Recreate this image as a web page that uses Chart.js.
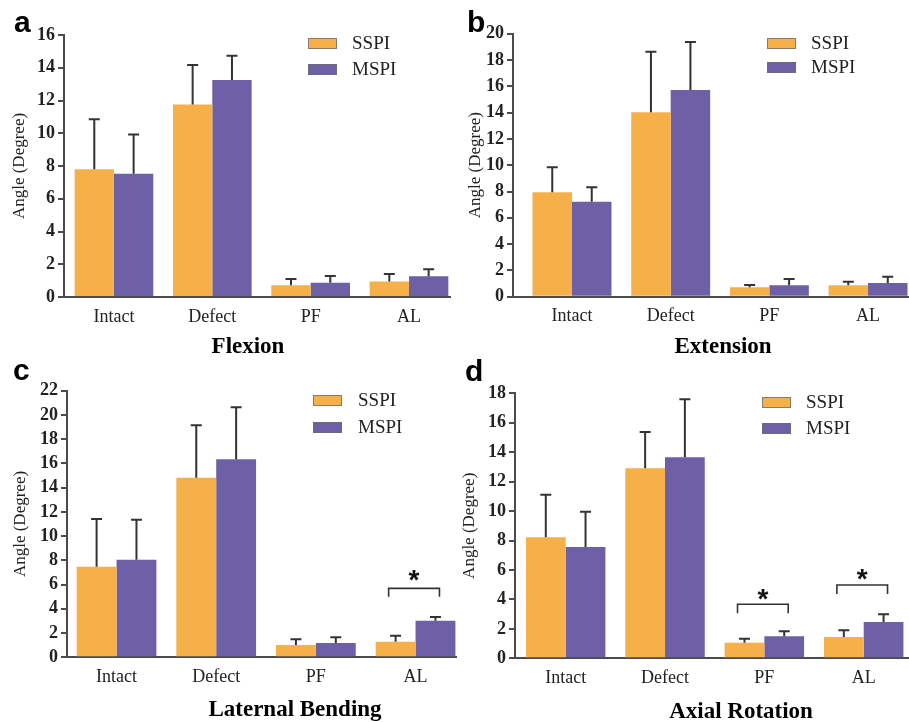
<!DOCTYPE html>
<html><head><meta charset="utf-8">
<script src="https://cdn.jsdelivr.net/npm/chart.js@4.4.1/dist/chart.umd.min.js"></script>
<style>
html,body{margin:0;padding:0;background:#fff;}
body{width:909px;height:722px;overflow:hidden;position:relative;}
canvas{position:absolute;}
</style></head><body>
<canvas id="pa" style="left:0px;top:0px" width="460" height="360"></canvas>
<canvas id="pb" style="left:450px;top:0px" width="459" height="360"></canvas>
<canvas id="pc" style="left:0px;top:355px" width="460" height="367"></canvas>
<canvas id="pd" style="left:450px;top:355px" width="459" height="367"></canvas>
<script>
// ---- data ----
const categories = ['Intact', 'Defect', 'PF', 'AL'];
const seriesNames = ['SSPI', 'MSPI'];

const flexionSSPI    = [7.80, 11.75, 0.71, 0.94];
const flexionSSPIErr = [3.05, 2.42, 0.39, 0.46];
const flexionMSPI    = [7.53, 13.25, 0.87, 1.26];
const flexionMSPIErr = [2.40, 1.49, 0.41, 0.43];

const extensionSSPI    = [7.94, 14.02, 0.71, 0.87];
const extensionSSPIErr = [1.90, 4.61, 0.18, 0.27];
const extensionMSPI    = [7.22, 15.72, 0.87, 1.04];
const extensionMSPIErr = [1.10, 3.65, 0.48, 0.48];

const lateralSSPI    = [7.47, 14.82, 1.01, 1.29];
const lateralSSPIErr = [3.94, 4.32, 0.48, 0.49];
const lateralMSPI    = [8.05, 16.34, 1.18, 3.02];
const lateralMSPIErr = [3.30, 4.29, 0.47, 0.31];

const axialSSPI    = [8.22, 12.91, 1.06, 1.45];
const axialSSPIErr = [2.89, 2.46, 0.27, 0.45];
const axialMSPI    = [7.56, 13.65, 1.49, 2.47];
const axialMSPIErr = [2.40, 3.94, 0.34, 0.52];

const yMaxTicks = [16, 20, 22, 18];
const panelTitles = ['Flexion', 'Extension', 'Laternal Bending', 'Axial Rotation'];
const panelLetters = ['a', 'b', 'c', 'd'];

// ---- styles ----
const ORANGE = '#F5B04A';
const PURPLE = '#6E60A7';
const AXIS = '#4d4a4a';
const INK = '#222222';
const SERIF = "'Liberation Serif', 'Times New Roman', serif";
const SANS = "'Liberation Sans', Arial, sans-serif";

// layout per panel (canvas coordinates)
const panels = [
  {id:'pa', sspi:flexionSSPI, sspiErr:flexionSSPIErr, mspi:flexionMSPI, mspiErr:flexionMSPIErr,
   xMin:-0.508, xMax:3.417, yWidth:64, padTop:35, padRight:10, xHeight:63, yTitlePad:9,
   legendX:308, legendY:38, legendGap:26, legendTextX:352, titleX:248, titleY:353, letterX:14, letterY:32, sig:[]},
  {id:'pb', sspi:extensionSSPI, sspiErr:extensionSSPIErr, mspi:extensionMSPI, mspiErr:extensionMSPIErr,
   xMin:-0.598, xMax:3.405, yWidth:63, padTop:33.7, padRight:1, xHeight:63.3, yTitlePad:15,
   legendX:317, legendY:38, legendGap:24, legendTextX:361, titleX:273, titleY:353, letterX:17, letterY:32, sig:[]},
  {id:'pc', sspi:lateralSSPI, sspiErr:lateralSSPIErr, mspi:lateralMSPI, mspiErr:lateralMSPIErr,
   xMin:-0.497, xMax:3.406, yWidth:67, padTop:35.7, padRight:4, xHeight:64.7, yTitlePad:10,
   legendX:313, legendY:40, legendGap:27, legendTextX:358, titleX:295, titleY:361, letterX:13, letterY:25,
   sig:[{cat:3, top:5.69, bottom:5.0, star:6.96}]},
  {id:'pd', sspi:axialSSPI, sspiErr:axialSSPIErr, mspi:axialMSPI, mspiErr:axialMSPIErr,
   xMin:-0.51, xMax:3.456, yWidth:65, padTop:38.3, padRight:0, xHeight:63.7, yTitlePad:9,
   legendX:312, legendY:42, legendGap:26, legendTextX:356, titleX:291, titleY:363, letterX:15, letterY:26,
   sig:[{cat:2, top:3.67, bottom:3.06, star:4.52}, {cat:3, top:4.98, bottom:4.37, star:5.86}]}
];

function decorPlugin(p, idx){
  return {
    id:'decor'+idx,
    afterDatasetsDraw(chart){
      const ctx = chart.ctx;
      const xs = chart.scales.x, ys = chart.scales.y;
      ctx.save();
      // error bars (upper only)
      ctx.strokeStyle = '#333';
      ctx.lineWidth = 2;
      chart.data.datasets.forEach((ds, di) => {
        const meta = chart.getDatasetMeta(di);
        meta.data.forEach((bar, i) => {
          const top = ys.getPixelForValue(ds.data[i].y + ds.err[i]);
          ctx.beginPath();
          ctx.moveTo(bar.x, bar.y);
          ctx.lineTo(bar.x, top);
          ctx.moveTo(bar.x - 5.5, top);
          ctx.lineTo(bar.x + 5.5, top);
          ctx.stroke();
        });
      });
      // significance brackets
      ctx.lineWidth = 1.6;
      p.sig.forEach(s => {
        const x1 = xs.getPixelForValue(s.cat - 0.27);
        const x2 = xs.getPixelForValue(s.cat + 0.24);
        const yt = ys.getPixelForValue(s.top);
        const yb = ys.getPixelForValue(s.bottom);
        ctx.beginPath();
        ctx.moveTo(x1, yb); ctx.lineTo(x1, yt); ctx.lineTo(x2, yt); ctx.lineTo(x2, yb);
        ctx.stroke();
        ctx.fillStyle = '#111';
        ctx.font = 'bold 28px ' + SANS;
        ctx.textAlign = 'center';
        ctx.textBaseline = 'alphabetic';
        ctx.fillText('*', xs.getPixelForValue(s.cat - 0.015), ys.getPixelForValue(s.star) + 16);
      });
      ctx.restore();
    },
    afterDraw(chart){
      const ctx = chart.ctx;
      ctx.save();
      // legend
      chart.data.datasets.forEach((ds, di) => {
        const y = p.legendY + di * p.legendGap;
        ctx.fillStyle = ds.backgroundColor;
        ctx.fillRect(p.legendX, y, 29, 11);
        ctx.strokeStyle = 'rgba(110,110,110,0.8)';
        ctx.lineWidth = 1;
        ctx.strokeRect(p.legendX + 0.5, y + 0.5, 28, 10);
        ctx.fillStyle = INK;
        ctx.font = '19px ' + SERIF;
        ctx.textAlign = 'left';
        ctx.textBaseline = 'middle';
        ctx.fillText(ds.label, p.legendTextX, y + 6.5);
      });
      // panel title
      ctx.fillStyle = '#000';
      ctx.font = 'bold 23px ' + SERIF;
      ctx.textAlign = 'center';
      ctx.textBaseline = 'alphabetic';
      ctx.fillText(panelTitles[idx], p.titleX, p.titleY);
      // panel letter
      ctx.font = 'bold 30px ' + SANS;
      ctx.textAlign = 'left';
      ctx.fillText(panelLetters[idx], p.letterX, p.letterY);
      ctx.restore();
    }
  };
}

panels.forEach((p, idx) => {
  const datasets = [
    {label:seriesNames[0], data:p.sspi.map((v, i) => ({x:i, y:v})), err:p.sspiErr, backgroundColor:ORANGE, borderWidth:0},
    {label:seriesNames[1], data:p.mspi.map((v, i) => ({x:i, y:v})), err:p.mspiErr, backgroundColor:PURPLE, borderWidth:0}
  ];
  new Chart(document.getElementById(p.id), {
    type:'bar',
    data:{datasets},
    options:{
      responsive:false, animation:false, devicePixelRatio:1,
      layout:{padding:{top:p.padTop, right:p.padRight, left:0, bottom:0}},
      datasets:{bar:{categoryPercentage:0.8, barPercentage:1.0}},
      plugins:{legend:{display:false}, tooltip:{enabled:false}, title:{display:false}},
      scales:{
        x:{
          type:'linear', min:p.xMin, max:p.xMax, offset:false,
          grid:{display:false, drawTicks:false},
          border:{display:true, color:AXIS, width:2},
          ticks:{padding:9, color:INK, font:{family:SERIF, size:18}, maxRotation:0, autoSkip:false,
                 callback:(v) => categories[v] !== undefined ? categories[v] : ''},
          afterBuildTicks:(s) => { s.ticks = categories.map((c, i) => ({value:i})); },
          afterFit:(s) => { s.height = p.xHeight; }
        },
        y:{
          min:0, max:yMaxTicks[idx],
          ticks:{stepSize:2, padding:3, autoSkip:false, color:INK, font:{family:SERIF, size:18, weight:'bold'}},
          grid:{display:true, drawOnChartArea:false, drawTicks:true, tickLength:6, color:AXIS, lineWidth:2},
          border:{display:true, color:AXIS, width:2},
          title:{display:true, text:'Angle (Degree)', color:INK, font:{family:SERIF, size:17}, padding:{top:p.yTitlePad, bottom:0}},
          afterFit:(s) => { s.width = p.yWidth; }
        }
      }
    },
    plugins:[decorPlugin(p, idx)]
  });
});
</script>
</body></html>
